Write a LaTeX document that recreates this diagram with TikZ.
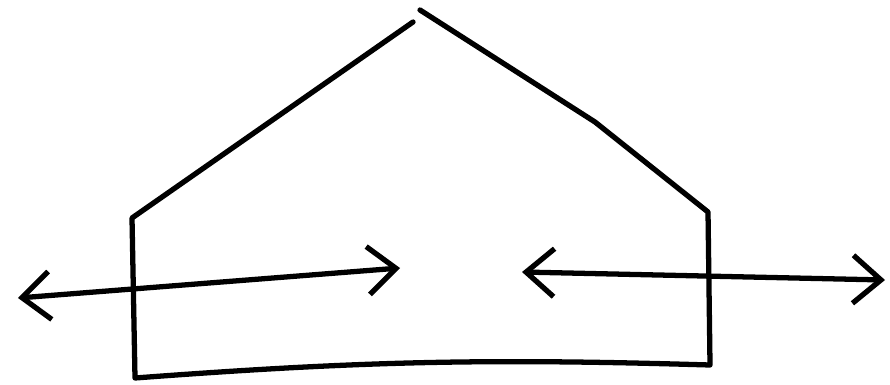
\documentclass[tikz,border=0pt]{standalone}
\usetikzlibrary{arrows.meta}
\tikzset{
    stroke/.style={line width=1.5pt, line cap=round, line join=round, black},
    twoway/.style={stroke, {Straight Barb[length=2.8mm,width=4.8mm]}-{Straight Barb[length=2.8mm,width=4.8mm]}}
}

\begin{document}
\begin{tikzpicture}
\useasboundingbox (0,0) rectangle (8.9,3.84);

% outline of the house
\coordinate (peakL) at (4.13,3.62);
\coordinate (peakR) at (4.20,3.74);
\coordinate (eaveL) at (1.32,1.66);
\coordinate (eaveR) at (7.08,1.72);
\coordinate (baseL) at (1.35,0.06);
\coordinate (baseR) at (7.10,0.19);

\draw [stroke] (peakL) -- (eaveL) -- (baseL) to[bend left=3] (baseR) -- (eaveR) -- (5.95,2.62) -- (peakR);

% arrows
\coordinate (outL) at (0.18,0.86);
\coordinate (inL) at (4.00,1.16);
\coordinate (inR) at (5.22,1.12);
\coordinate (outR) at (8.85,1.04);

\draw [twoway] (outL) -- (inL);
\draw [twoway] (inR) -- (outR);

\end{tikzpicture}
\end{document}
